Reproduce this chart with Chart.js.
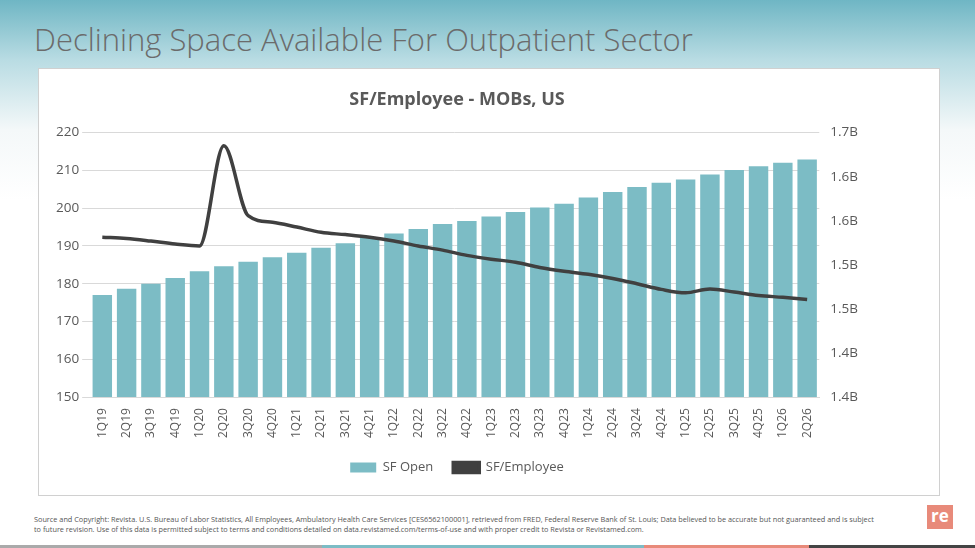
<!DOCTYPE html>
<html><head><meta charset="utf-8">
<script src="https://cdn.jsdelivr.net/npm/chart.js@4"></script>
<style>
body{margin:0;width:975px;height:548px;position:relative;overflow:hidden;font-family:"Open Sans",Calibri,sans-serif;
background:linear-gradient(to bottom,#6fb6c4 0px,#b9dce3 60px,#f4f8f9 130px,#ffffff 200px);}
#t{position:absolute;left:34px;top:18px;font-size:31px;color:#6b6b6b;font-weight:300;}
#box{position:absolute;left:38px;top:68px;width:900px;height:426px;background:#fff;border:1px solid #d0d0d0;}
#foot{position:absolute;left:34px;top:514px;font-size:7.3px;color:#555;line-height:10px;width:860px;}
#logo{position:absolute;left:927px;top:505px;width:26px;height:24px;background:#e88a7a;color:#fff;font-weight:bold;font-size:17px;text-align:center;line-height:22px;}
#bar{position:absolute;left:0;top:545px;width:975px;height:3px;background:linear-gradient(to right,#aaa 0 33%,#7cbcc5 33% 66%,#e88a7a 66% 83%,#444 83%);}
</style></head><body>
<div id="t">Declining Space Available For Outpatient Sector</div>
<div id="box"><canvas id="c" width="900" height="426"></canvas></div>
<div id="foot">Source and Copyright: Revista. U.S. Bureau of Labor Statistics, All Employees, Ambulatory Health Care Services [CES6562100001], retrieved from FRED, Federal Reserve Bank of St. Louis; Data believed to be accurate but not guaranteed and is subject<br>to future revision. Use of this data is permitted subject to terms and conditions detailed on data.revistamed.com/terms-of-use and with proper credit to Revista or Revistamed.com.</div>
<div id="logo">re</div>
<div id="bar"></div>
<script>
const categories=["1Q19","2Q19","3Q19","4Q19","1Q20","2Q20","3Q20","4Q20","1Q21","2Q21","3Q21","4Q21","1Q22","2Q22","3Q22","4Q22","1Q23","2Q23","3Q23","4Q23","1Q24","2Q24","3Q24","4Q24","1Q25","2Q25","3Q25","4Q25","1Q26","2Q26"];
const sfOpen=[1.5157,1.523,1.5286,1.535,1.5427,1.5483,1.5534,1.5586,1.5637,1.5693,1.5744,1.5809,1.5856,1.5907,1.5963,1.5997,1.6049,1.61,1.6151,1.6194,1.6263,1.6327,1.6383,1.643,1.6469,1.6524,1.6576,1.6619,1.6657,1.6696];
const sfPerEmployee=[192.3,192,191.3,190.5,190,216.5,198,196.3,195,193.6,193,192.3,191.3,190,188.9,187.5,186.5,185.7,184.3,183.3,182.5,181.4,180,178.5,177.6,178.6,177.8,176.9,176.4,175.8];
const F="'Open Sans',sans-serif";
new Chart(document.getElementById('c'),{
data:{labels:categories,datasets:[
{type:'line',label:'SF/Employee',data:sfPerEmployee,yAxisID:'y',borderColor:'#404040',backgroundColor:'#404040',borderWidth:3.5,pointRadius:0,tension:0.4,cubicInterpolationMode:'monotone',order:0},
{type:'bar',label:'SF Open',data:sfOpen,yAxisID:'y1',backgroundColor:'#7cbcc5',categoryPercentage:0.8,barPercentage:1,order:1}
]},
options:{responsive:false,animation:false,
layout:{padding:{left:14,right:78,top:4,bottom:11}},
plugins:{title:{display:true,text:'SF/Employee - MOBs, US',color:'#595959',font:{family:F,size:18,weight:'bold'},padding:{top:16,bottom:22}},
legend:{position:'bottom',reverse:true,labels:{color:'#595959',font:{family:F,size:13},boxWidth:26,boxHeight:10,padding:20}}},
scales:{
x:{grid:{display:false},border:{color:'#d9d9d9'},ticks:{color:'#595959',font:{family:F,size:12},maxRotation:90,minRotation:90}},
y:{position:'left',min:150,max:220,ticks:{stepSize:10,color:'#595959',font:{family:F,size:13.5}},grid:{color:'#d9d9d9'},border:{display:false}},
y1:{position:'right',min:1.4,max:1.7,ticks:{stepSize:0.05,color:'#595959',font:{family:F,size:13.5},callback:v=>v.toFixed(1)+'B'},grid:{display:false},border:{display:false}}
}}});
</script></body></html>
